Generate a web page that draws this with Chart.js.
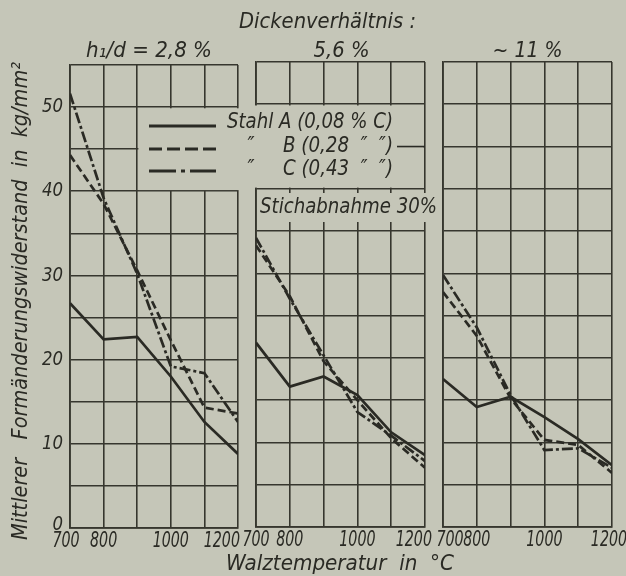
<!DOCTYPE html>
<html lang="de">
<head>
<meta charset="UTF-8">
<title>Formänderungswiderstand</title>
<script src="https://cdn.jsdelivr.net/npm/chart.js"></script>
<style>
  body { margin: 0; background: #c5c6b8; }
  #wrap { position: relative; width: 626px; height: 576px; }
  canvas { position: absolute; left: 0; top: 0; }
</style>
</head>
<body>
<div id="wrap">
  <canvas id="p3" width="626" height="576" style="z-index:1"></canvas>
  <canvas id="p2" width="626" height="576" style="z-index:2"></canvas>
  <canvas id="p1" width="626" height="576" style="z-index:3"></canvas>
</div>
<script>
// temperatures (°C) and tick labels
const temps = [700, 800, 900, 1000, 1100, 1200];
const xTickLabels = [700, 800, 1000, 1200];
const yTickLabels = [0, 10, 20, 30, 40, 50];
const panelTitles = ['h\u2081/d = 2,8 %', '5,6 %', '~ 11 %'];

// h1/d = 2,8 %
const stahlA_28 = [26.7, 22.4, 22.7, 18.0, 12.6, 8.8];
const stahlB_28 = [44.3, 38.5, 30.6, 22.3, 14.3, 13.6];
const stahlC_28 = [51.6, 39.2, 30.2, 19.2, 18.4, 12.6];
// 5,6 %
const stahlA_56 = [21.8, 16.6, 17.8, 15.6, 11.2, 8.5];
const stahlB_56 = [33.3, 27.3, 19.6, 15.0, 10.5, 7.0];
const stahlC_56 = [34.2, 27.0, 20.3, 13.6, 10.8, 7.8];
// ~ 11 %
const stahlA_11 = [17.5, 14.2, 15.4, 13.0, 10.4, 7.3];
const stahlB_11 = [27.8, 22.6, 15.2, 10.3, 9.7, 6.4];
const stahlC_11 = [29.8, 23.6, 15.6, 9.1, 9.3, 7.0];

const INK = '#2a2a24';
const GRID = '#36362e';
const FONT = '"Liberation Sans Narrow", "DejaVu Sans Condensed", sans-serif';

function pts(arr) {
  return temps.map((t, i) => ({ x: t, y: arr[i] }));
}

// write italic text; width = target width, or squeeze = horizontal factor
function put(ctx, s, x, y, size, align, width, squeeze) {
  ctx.save();
  ctx.font = 'italic ' + size + 'px ' + FONT;
  ctx.textBaseline = 'middle';
  ctx.textAlign = 'left';
  ctx.fillStyle = INK;
  const m = ctx.measureText(s).width;
  const k = width ? width / m : (squeeze || 1);
  const w = m * k;
  const left = align === 'left' ? x : align === 'right' ? x - w : x - w / 2;
  ctx.translate(left, y);
  ctx.scale(k, 1);
  ctx.fillText(s, 0, 0);
  ctx.restore();
}

function stroke(ctx, x1, y1, x2, y2, dash, lw) {
  ctx.save();
  ctx.strokeStyle = INK;
  ctx.lineWidth = lw || 2.8;
  ctx.setLineDash(dash || []);
  ctx.beginPath();
  ctx.moveTo(x1, y1);
  ctx.lineTo(x2, y2);
  ctx.stroke();
  ctx.restore();
}

// x tick labels drawn from each panel's own scale
function xLabels(chart, idx) {
  const ctx = chart.ctx;
  const xs = chart.scales.x;
  const yb = chart.chartArea.bottom + 13;
  xTickLabels.forEach(v => {
    let px = xs.getPixelForValue(v);
    let align = 'center';
    if (v === 1200 && idx < 2) { align = 'right'; px += (idx === 0 ? 2 : 7); }
    if (v === 1200 && idx === 2) px -= 3;
    if (v === 700 && idx === 0) px -= 4;
    if (v === 700 && idx === 2) px += 7;
    put(ctx, String(v), px, yb, 22, align, 0, 0.72);
  });
}

const panelLabels = {
  id: 'panelLabels',
  afterDraw(chart, args, opts) {
    xLabels(chart, opts.idx);
    const ctx = chart.ctx;
    const cx = (chart.chartArea.left + chart.chartArea.right) / 2;
    if (opts.idx === 1) put(ctx, panelTitles[1], cx + 1, 51, 22, 'center', 56);
    if (opts.idx === 2) put(ctx, panelTitles[2], cx, 51, 22, 'center', 70);
  }
};

const overlay = {
  id: 'overlay',
  afterDraw(chart) {
    const ctx = chart.ctx;
    const c2 = charts.p2;
    const xs = chart.scales.x, ys = chart.scales.y;
    const area = chart.chartArea, a2 = c2.chartArea;
    const ys2 = c2.scales.y;

    // y ticks
    yTickLabels.forEach(v => {
      put(ctx, String(v), 63, ys.getPixelForValue(v) - (v === 0 ? 3 : 0), 20, 'right', 0, 0.92);
    });

    // titles
    put(ctx, 'Dickenverhältnis :', 239, 22, 22, 'left', 177);
    put(ctx, panelTitles[0], 86, 51, 22, 'left', 126);
    put(ctx, 'Walztemperatur  in  °C', 340, 564, 22, 'center', 228);

    ctx.save();
    ctx.translate(21, 301);
    ctx.rotate(-Math.PI / 2);
    put(ctx, 'Mittlerer   Formänderungswiderstand  in  kg/mm²', 0, 0, 22, 'center', 478);
    ctx.restore();

    // legend panel, covering the grid
    ctx.save();
    ctx.fillStyle = '#c5c6b8';
    const l1 = xs.getPixelForValue(900) + 1.2;
    ctx.fillRect(l1, ys.getPixelForValue(50) + 1.2, area.right + 1.5 - l1,
      ys.getPixelForValue(40) - ys.getPixelForValue(50) - 2.4);
    ctx.fillRect(a2.left - 1.5, ys2.getPixelForValue(50) + 1.2, a2.right - a2.left,
      ys2.getPixelForValue(40) - ys2.getPixelForValue(50) - 2.4);
    ctx.fillRect(a2.left + 1.2, 193, a2.right - a2.left + 0.5, 29);
    ctx.restore();
    stroke(ctx, 397, ys2.getPixelForValue(45), a2.right, ys2.getPixelForValue(45), [], 1.6);

    stroke(ctx, 149, 126, 216, 126, [], 3);
    stroke(ctx, 149, 149, 216, 149, [13, 5], 3);
    stroke(ctx, 149, 171, 216, 171, [27, 5, 4, 5], 3);

    put(ctx, 'Stahl A (0,08 % C)', 227, 123, 21, 'left', 166);
    put(ctx, '\u2033', 251, 147, 21, 'center');
    put(ctx, 'B (0,28  \u2033  \u2033)', 283, 147, 21, 'left', 110);
    put(ctx, '\u2033', 251, 170, 21, 'center');
    put(ctx, 'C (0,43  \u2033  \u2033)', 283, 170, 21, 'left', 110);

    put(ctx, 'Stichabnahme 30%', 260, 208, 21, 'left', 177);
  }
};

const charts = {};

function makePanel(id, idx, pad, a, b, c, extra) {
  const ctx = document.getElementById(id).getContext('2d');
  charts[id] = new Chart(ctx, {
    type: 'line',
    data: {
      datasets: [
        { label: 'Stahl A', data: pts(a), borderColor: INK, borderWidth: 2.7 },
        { label: 'Stahl B', data: pts(b), borderColor: INK, borderWidth: 2.7, borderDash: [8, 4] },
        { label: 'Stahl C', data: pts(c), borderColor: INK, borderWidth: 2.7, borderDash: [11, 3, 3, 3] }
      ]
    },
    options: {
      responsive: false,
      devicePixelRatio: 1,
      animation: false,
      layout: { padding: pad },
      elements: { point: { radius: 0 }, line: { tension: 0, borderCapStyle: 'butt' } },
      plugins: {
        legend: { display: false },
        tooltip: { enabled: false },
        panelLabels: { idx: idx }
      },
      scales: {
        x: {
          type: 'linear', min: 700, max: 1200,
          ticks: { display: false, stepSize: 100 },
          grid: { color: GRID, lineWidth: 1.6, drawTicks: false },
          border: { color: GRID, width: 1.8 }
        },
        y: {
          min: 0, max: 55,
          ticks: { display: false, stepSize: 5 },
          grid: { color: GRID, lineWidth: 1.6, drawTicks: false },
          border: { color: GRID, width: 1.8 }
        }
      }
    },
    plugins: [panelLabels].concat(extra || [])
  });
}

makePanel('p3', 2, { left: 443, top: 62, right: 14, bottom: 49 }, stahlA_11, stahlB_11, stahlC_11);
makePanel('p2', 1, { left: 256, top: 62, right: 201, bottom: 49 }, stahlA_56, stahlB_56, stahlC_56);
makePanel('p1', 0, { left: 70, top: 65, right: 388, bottom: 48 }, stahlA_28, stahlB_28, stahlC_28, [overlay]);
</script>
</body>
</html>
